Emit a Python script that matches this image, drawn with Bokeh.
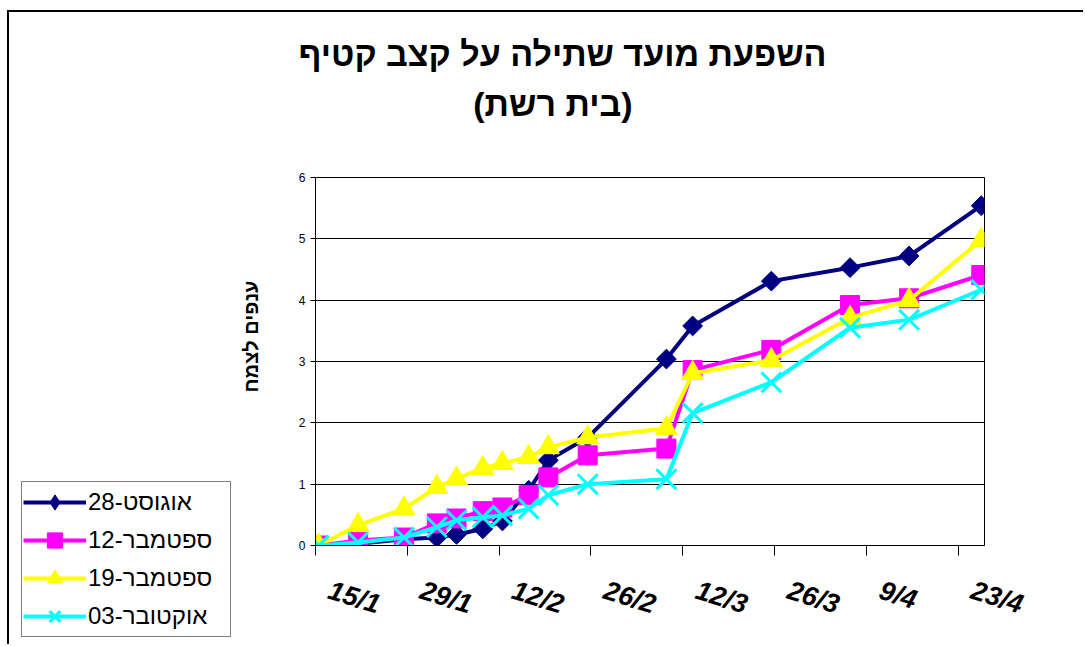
import math
import datetime
from bokeh.plotting import figure
from bokeh.layouts import row
from bokeh.models import (Range1d, FixedTicker, Legend, LegendItem, Title,
                          LinearAxis, Label)
from bokeh.embed import file_html
from bokeh.resources import INLINE

# ---------------- data ----------------
title_line1 = "השפעת מועד שתילה על קצב קטיף"
title_line2 = "(בית רשת)"
y_title = "ענפים לצמח"

dates = ["15/1", "21/1", "28/1", "2/2", "5/2", "9/2", "12/2", "16/2", "19/2",
         "25/2", "9/3", "13/3", "25/3", "6/4", "15/4", "26/4"]

series_names = ["אוגוסט-28", "ספטמבר-12", "ספטמבר-19", "אוקטובר-03"]
aug28 = [0, 0.03, 0.10, 0.13, 0.18, 0.27, 0.40, 0.90, 1.39, 1.76, 3.04, 3.58, 4.31, 4.53, 4.72, 5.54]
sep12 = [0, 0.08, 0.13, 0.36, 0.44, 0.56, 0.62, 0.82, 1.11, 1.47, 1.58, 2.86, 3.19, 3.92, 4.03, 4.41]
sep19 = [0, 0.33, 0.60, 0.95, 1.09, 1.26, 1.34, 1.44, 1.60, 1.76, 1.91, 2.81, 3.02, 3.71, 4.00, 4.98]
oct03 = [0, 0.05, 0.13, 0.30, 0.41, 0.46, 0.49, 0.60, 0.82, 1.00, 1.08, 2.16, 2.66, 3.55, 3.68, 4.17]

tick_labels = ["15/1", "29/1", "12/2", "26/2", "12/3", "26/3", "9/4", "23/4"]
y_ticks = [0, 1, 2, 3, 4, 5, 6]

colors = ["#000080", "#FF00FF", "#FFFF00", "#00FFFF"]
markers = ["square", "square", "triangle", "x"]
legend_markers = ["diamond", "square", "triangle", "x"]

# ---------------- helpers ----------------
START = datetime.date(2007, 1, 15)


def day(s):
    d, m = s.split("/")
    return (datetime.date(2007, int(m), int(d)) - START).days


x = [day(s) + 0.5 for s in dates]
tick_days = [day(s) for s in tick_labels]
label_pos = [t + 2.1 for t in tick_days]

FONT = "Liberation Sans"

OX, OY = 9, 12      # page position of the layout content
H = 632
WL = 256            # left (legend) figure width
WM = 818            # main figure width
FL, FR, FT, FB = 50, 719, 165, 533  # frame edges inside main canvas

# ---------------- main figure ----------------
p = figure(width=WM, height=H, output_backend="svg", toolbar_location=None,
           x_range=Range1d(0, 102), y_range=Range1d(0, 6),
           min_border_left=FL, min_border_right=WM - FR,
           min_border_top=FT, min_border_bottom=H - FB)
p.frame_align = False
p.background_fill_color = "white"
p.border_fill_color = "white"
p.outline_line_color = "black"
p.outline_line_width = 1

# titles: figure title (outermost) = line 1; extra above: spacer, line 2
p.title.text = title_line1
p.title.align = "right"
p.title.offset = 158
p.title.standoff = 12
p.title.text_font = FONT
p.title.text_font_size = "34px"
p.title.text_font_style = "bold"
p.title.text_color = "black"
p.add_layout(Title(text=" ", text_font_size="10px", standoff=38), "above")
p.add_layout(Title(text=title_line2, align="right", offset=352, standoff=8,
                   text_font=FONT, text_font_size="34px", text_font_style="bold",
                   text_color="black"), "above")

# x axis: tick marks only
p.xaxis.ticker = FixedTicker(ticks=tick_days)
p.xaxis.major_label_overrides = {t: "" for t in tick_days}
p.xaxis.major_label_text_font_size = "0px"
p.xaxis.major_label_standoff = 0
p.xaxis.major_tick_out = 10
p.xaxis.major_tick_in = 0
p.xaxis.minor_tick_out = 0
p.xaxis.minor_tick_in = 0
p.xaxis.axis_line_color = "black"
p.xaxis.major_tick_line_color = "black"

# x axis: rotated date labels
lab_axis = LinearAxis(ticker=FixedTicker(ticks=label_pos),
                      major_label_overrides={lp: t for lp, t in zip(label_pos, tick_labels)},
                      major_label_orientation=-0.3,
                      major_label_standoff=34,
                      major_label_text_font=FONT,
                      major_label_text_font_size="27px",
                      major_label_text_font_style="bold italic",
                      major_label_text_color="black",
                      major_tick_out=0, major_tick_in=0,
                      axis_line_color=None, major_tick_line_color=None,
                      minor_tick_line_color=None)
p.add_layout(lab_axis, "below")

# y axis
p.yaxis.ticker = FixedTicker(ticks=y_ticks)
p.yaxis.major_tick_out = 5
p.yaxis.major_tick_in = 0
p.yaxis.minor_tick_out = 0
p.yaxis.minor_tick_in = 0
p.yaxis.major_label_standoff = 5
p.yaxis.major_label_text_font = FONT
p.yaxis.major_label_text_font_size = "12px"
p.yaxis.major_label_text_color = "black"
p.yaxis.axis_line_color = "black"

p.xgrid.grid_line_color = None
p.ygrid.grid_line_color = "black"
p.ygrid.grid_line_width = 1

# series
all_vals = [aug28, sep12, sep19, oct03]
for i, (vals, c, m) in enumerate(zip(all_vals, colors, markers)):
    p.line(x, vals, line_color=c, line_width=4)
    if m == "x":
        p.scatter(x, vals, marker=m, size=28, line_color=c, line_width=3)
    elif i == 0:
        p.scatter(x, vals, marker=m, angle=math.pi / 4, size=14,
                  fill_color=c, line_color=c)
    elif m == "triangle":
        p.scatter(x, vals, marker=m, size=22, fill_color=c, line_color=c)
    else:
        p.scatter(x, vals, marker=m, size=19, fill_color=c, line_color=c)

# ---------------- left figure: legend + y title ----------------
lf = figure(width=WL, height=H, output_backend="svg", toolbar_location=None,
            x_range=Range1d(0, 1), y_range=Range1d(0, 1),
            x_axis_type=None, y_axis_type=None,
            min_border=0, min_border_left=0, min_border_right=0,
            min_border_top=0, min_border_bottom=0)
lf.frame_align = False
lf.outline_line_color = None
lf.background_fill_color = "white"
lf.border_fill_color = "white"
lf.grid.grid_line_color = None
lf.title.text = ""
items = []
nan = float("nan")
for name, c, m in zip(series_names, colors, legend_markers):
    lr = lf.line([nan], [nan], line_color=c, line_width=4)
    if m == "x":
        sr = lf.scatter([nan], [nan], marker=m, line_color=c, line_width=3)
    else:
        sr = lf.scatter([nan], [nan], marker=m, fill_color=c, line_color=c)
    items.append(LegendItem(label=name, renderers=[lr, sr]))

legend = Legend(items=items, location=(21 - OX, H - (637 - OY)),
                label_text_font=FONT, label_text_font_size="24px",
                label_text_color="black",
                glyph_width=63, glyph_height=38, label_height=24,
                label_width=141, label_standoff=2,
                padding=1, spacing=0, margin=0,
                border_line_color="black", border_line_width=1,
                background_fill_color="white", background_fill_alpha=1)
lf.add_layout(legend)

lf.add_layout(Label(x=250 - OX, y=H - (336 - OY), x_units="screen", y_units="screen",
                    text=y_title, angle=math.pi / 2, text_align="center",
                    text_baseline="middle", text_font=FONT,
                    text_font_size="20px", text_font_style="bold",
                    text_color="black"))

layout = row(lf, p, margin=(10, 0, 0, 7),
             styles={"border-left": "2px solid black",
                     "border-top": "2px solid black"})

open("out.html", "w").write(file_html(layout, INLINE))
